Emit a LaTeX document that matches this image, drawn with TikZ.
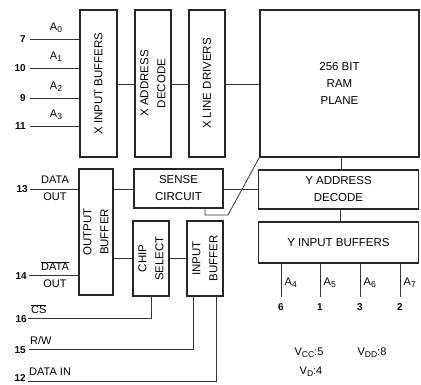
\documentclass[tikz,border=0pt]{standalone}
\usepackage{fontspec}
\setmainfont{Liberation Sans}
\newcommand{\mysub}[1]{\raisebox{-0.35ex}{\fontsize{8.5}{9}\selectfont #1}}
\begin{document}
\begin{tikzpicture}[x=1pt,y=-1pt,
 blk/.style={draw=black!85, line width=1.8pt, fill=white, inner sep=0pt},
 wire/.style={draw=black!80, line width=0.8pt},
 lbl/.style={font=\fontsize{11}{12}\selectfont, inner sep=0pt},
 pinno/.style={font=\bfseries\fontsize{10}{12}\selectfont, inner sep=0pt},
 btxt/.style={font=\fontsize{11.5}{17}\selectfont, align=center, inner sep=0pt}]
\useasboundingbox (0,0) rectangle (421,385);
% blocks
\node[blk, minimum width=37pt, minimum height=147pt] (xib) at (98.5,83.5) {};
\node[blk, minimum width=36pt, minimum height=147pt] (xad) at (153,83.5) {};
\node[blk, minimum width=36pt, minimum height=147pt] (xld) at (207,83.5) {};
\node[blk, minimum width=159pt, minimum height=147pt] (ram) at (339.5,83.5) {};
\node[blk, minimum width=34pt, minimum height=126pt] (ob) at (96,232) {};
\node[blk, minimum width=89pt, minimum height=39pt] (sc) at (178.5,188.5) {};
\node[blk, minimum width=36pt, minimum height=75pt] (cs) at (151,258.5) {};
\node[blk, minimum width=36pt, minimum height=75pt] (ib) at (205,258.5) {};
\node[blk, minimum width=160pt, minimum height=39pt] (yad) at (338.5,189.5) {};
\node[blk, minimum width=160pt, minimum height=41pt] (yib) at (338.5,242.5) {};
% block texts
\node[btxt, rotate=90] at (xib) {X INPUT BUFFERS};
\node[btxt, rotate=90] at (xad) {X ADDRESS\\DECODE};
\node[btxt, rotate=90] at (xld) {X LINE DRIVERS};
\node[btxt] at (ram) {256 BIT\\RAM\\PLANE};
\node[btxt, rotate=90] at (ob) {OUTPUT\\BUFFER};
\node[btxt] at (sc) {SENSE\\CIRCUIT};
\node[btxt, rotate=90] at (cs) {CHIP\\SELECT};
\node[btxt, rotate=90] at (ib) {INPUT\\BUFFER};
\node[btxt] at (yad) {Y ADDRESS\\DECODE};
\node[btxt] at (yib) {Y INPUT BUFFERS};
% internal connections
\draw[wire] (xib.east |- 0,84) -- (xad.west |- 0,84);
\draw[wire] (xad.east |- 0,84) -- (xld.west |- 0,84);
\draw[wire] (xld.east |- 0,84) -- (ram.west |- 0,84);
\draw[wire] (ob.east |- 0,189) -- (sc.west |- 0,189);
\draw[wire] (ob.east |- 0,258) -- (cs.west |- 0,258);
\draw[wire] (cs.east |- 0,258) -- (ib.west |- 0,258);
\draw[wire] (sc.east |- 0,189) -- (yad.west |- 0,189);
\draw[wire] (ram.south -| 341,0) -- (yad.north -| 341,0);
\draw[wire] (yad.south -| 340,0) -- (yib.north -| 340,0);
\coordinate (k1) at (205,215);
\coordinate (k2) at (228,215);
\draw[wire] (sc.south -| k1) -- (k1) -- (k2) -- (ram.south west);
% X address inputs
\foreach \y/\n/\s in {39/7/0, 68/10/1, 98/9/2, 126/11/3} {
  \coordinate (xa\s) at (30,\y);
  \draw[wire] (xa\s) -- (xa\s -| xib.west);
  \node[pinno, anchor=east] at (26,\y) {\n};
  \node[lbl] at (56,\y-11) {A\mysub{\s}};
}
% data out
\coordinate (d13) at (30,189);
\draw[wire] (d13) -- (d13 -| ob.west);
\node[pinno, anchor=east] at (28,189) {13};
\node[lbl] at (55,180) {DATA};
\node[lbl] at (55,197) {OUT};
\coordinate (d14) at (29,275);
\draw[wire] (d14) -- (d14 -| ob.west);
\node[pinno, anchor=east] at (27,276) {14};
\node[lbl] at (55,266) {$\overline{\mbox{DATA}}$};
\node[lbl] at (55,284) {OUT};
% control lines
\coordinate (c16) at (28,318);
\draw[wire] (c16) -- (cs.south |- c16) -- (cs.south);
\node[pinno, anchor=east] at (27,319) {16};
\node[lbl, anchor=west] at (31,309) {$\overline{\mbox{CS}}$};
\coordinate (c15) at (29,349);
\coordinate (c15b) at (193,349);
\draw[wire] (c15) -- (c15b) -- (c15b |- ib.south);
\node[pinno, anchor=east] at (26,350) {15};
\node[lbl, anchor=west] at (30,341) {R/W};
\coordinate (c12) at (28,381);
\coordinate (c12b) at (216,381);
\draw[wire] (c12) -- (c12b) -- (c12b |- ib.south);
\node[pinno, anchor=east] at (26,378.5) {12};
\node[lbl, anchor=west] at (29,372) {DATA IN};
% Y address inputs
\foreach \x/\n/\s in {281/6/4, 320/1/5, 360/3/6, 400/2/7} {
  \coordinate (ya\s) at (\x,297);
  \draw[wire] (ya\s |- yib.south) -- (ya\s);
  \node[lbl, anchor=west] at (\x+3.5,283) {A\mysub{\s}};
  \node[pinno] at (\x,307) {\n};
}
% supply pins
\node[lbl] at (309,353) {V\mysub{CC}:5};
\node[lbl] at (372,353) {V\mysub{DD}:8};
\node[lbl] at (311,372) {V\mysub{D}:4};
\end{tikzpicture}
\end{document}
